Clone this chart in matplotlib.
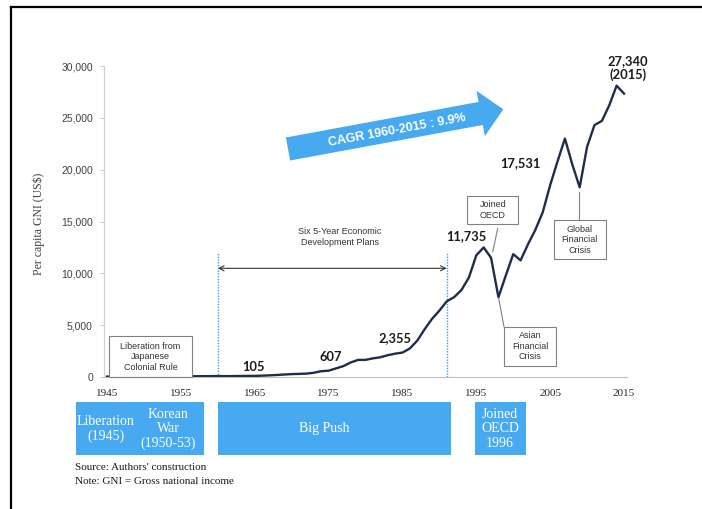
import numpy as np
import matplotlib
matplotlib.use("Agg")
import matplotlib.pyplot as plt
from matplotlib.patches import Rectangle, Polygon
from matplotlib.lines import Line2D
from matplotlib.ticker import FuncFormatter

# ---- data ----
years = list(range(1945, 2016))
gni = [40, 45, 45, 50, 50, 55, 55, 60, 67, 70, 65, 66, 74, 80, 81, 95,
       82, 87, 100, 107, 105, 130, 160, 195, 240, 280, 300, 325, 410, 560,
       607, 830, 1050, 1400, 1650, 1650, 1800, 1900, 2100, 2250, 2355, 2750,
       3500, 4600, 5600, 6400, 7300, 7700, 8400, 9600, 11735, 12500, 11500,
       7700, 9800, 11850, 11250, 12800, 14200, 15900, 18500, 20800, 23000,
       20500, 18300, 22200, 24300, 24700, 26200, 28100, 27340]

value_labels = ["105", "607", "2,355", "11,735", "17,531", "27,340\n(2015)"]
value_label_pos = [(1964.8, 965), (1975.3, 1930), (1984.0, 3760),
                   (1993.7, 13600), (2000.9, 20640), (2015.5, 29800)]

x_ticks = [1945, 1955, 1965, 1975, 1985, 1995, 2005, 2015]
y_ticks = [0, 5000, 10000, 15000, 20000, 25000, 30000]

periods = ["Liberation\n(1945)", "Korean\nWar\n(1950-53)", "Big Push", "Joined\nOECD\n1996"]

BLUE = "#47A9EF"
NAVY = "#1F2D4A"
W, H = 702, 509

fig = plt.figure(figsize=(W / 100, H / 100), dpi=100)
ax = fig.add_axes([104 / W, 1 - 377 / H, (627 - 104) / W, (377 - 66) / H])

ax.plot(years, gni, color=NAVY, lw=1.7, solid_joinstyle="round", zorder=5)

ax.set_xlim(1945 - 3 / 7.386, 2015 + 3 / 7.386)
ax.set_ylim(0, 30000)
ax.set_yticks(y_ticks)
ax.yaxis.set_major_formatter(FuncFormatter(lambda v, p: f"{int(v):,}"))
ax.set_xticks(x_ticks)
ax.set_xticklabels([str(t) for t in x_ticks])
for lab in ax.get_yticklabels():
    lab.set_fontfamily("Liberation Sans")
    lab.set_fontsize(7.5)
    lab.set_color("#404040")
for lab in ax.get_xticklabels():
    lab.set_fontfamily("Liberation Serif")
    lab.set_fontsize(8)
    lab.set_color("#262626")
ax.tick_params(axis="y", length=3, width=0.6, color="#BFBFBF", pad=5)
ax.tick_params(axis="x", length=0, pad=9)
for s in ["top", "right"]:
    ax.spines[s].set_visible(False)
ax.spines["left"].set_color("#D0D0D0")
ax.spines["bottom"].set_color("#BFBFBF")
ax.spines["left"].set_linewidth(0.8)
ax.spines["bottom"].set_linewidth(0.8)

# value labels
for t, (x, y) in zip(value_labels, value_label_pos):
    ax.text(x, y, t, ha="center", va="center", fontsize=9.3, fontweight="bold",
            family="Lato", color="#1a1a1a", clip_on=False, linespacing=1.1, zorder=6)

# dotted plan lines and double arrow
for xv in (1960, 1991):
    ax.plot([xv, xv], [0, 12050], color="#3F9BE0", lw=1.0, ls=(0, (1, 1)), zorder=4)
ax.annotate("", xy=(1991, 10485), xytext=(1960, 10485),
            arrowprops=dict(arrowstyle="<->", color="#333333", lw=0.8,
                            shrinkA=0, shrinkB=0, mutation_scale=9))
ax.text(1976.5, 13530, "Six 5-Year Economic\nDevelopment Plans", ha="center", va="center",
        fontsize=6.5, family="Liberation Sans", color="#333333", linespacing=1.25)

# annotation boxes
def note_box(x0, x1, y0, y1, text, cx, cy):
    ax.add_patch(Rectangle((x0, y0), x1 - x0, y1 - y0, facecolor="white",
                           edgecolor="#808080", lw=0.8, zorder=6, clip_on=False))
    ax.text(cx, cy, text, ha="center", va="center", fontsize=6.5, family="Liberation Sans",
            color="#333333", linespacing=1.2, zorder=7, clip_on=False)

note_box(1945.27, 1956.51, 0, 3955, "Liberation from\nJapanese\nColonial Rule", 1950.89, 1950)
note_box(1993.78, 2000.69, 14758, 17489, "Joined\nOECD", 1997.23, 16110)
note_box(1998.79, 2005.79, 1061, 4852, "Asian\nFinancial\nCrisis", 2002.29, 2960)
note_box(2005.52, 2012.52, 11353, 15144, "Global\nFinancial\nCrisis", 2009.02, 13250)
ax.plot([1997.9, 1997.23], [14344, 12087], color="#808080", lw=0.8, zorder=6)
ax.plot([1998.03, 1998.75], [7620, 4852], color="#808080", lw=0.8, zorder=6)
ax.plot([2008.95, 2008.95], [17875, 15144], color="#808080", lw=0.8, zorder=6)

# period boxes below the axis
period_spans = [(1940.76, 1958.13), (1959.99, 1991.53), (1994.78, 2001.69)]
for x0, x1 in period_spans:
    ax.add_patch(Rectangle((x0, -7524), x1 - x0, 7524 - 2412, facecolor=BLUE,
                           edgecolor="none", clip_on=False, zorder=3))
period_pos = [(1944.82, -5016), (1953.26, -5016), (1974.4, -5016), (1998.2, -5000)]
for t, (x, y) in zip(periods, period_pos):
    ax.text(x, y, t, ha="center", va="center", fontsize=10, family="Liberation Serif",
            color="white", linespacing=1.12, clip_on=False, zorder=4)

# CAGR arrow (figure pixel geometry)
tail = np.array([288.0, 149.0]); tip = np.array([503.3, 109.3])
d = tip - tail; u = d / np.linalg.norm(d); n = np.array([u[1], -u[0]])
hwb, hwh, hl = 11.7, 23.0, 23.0
base = tip - u * hl
pts = [tail + n * hwb, base + n * hwb, base + n * hwh, tip, base - n * hwh,
       base - n * hwb, tail - n * hwb]
pts = [(p[0] / W, 1 - p[1] / H) for p in pts]
fig.patches.append(Polygon(pts, closed=True, facecolor=BLUE, edgecolor="none",
                           transform=fig.transFigure, zorder=2))
ang = np.degrees(np.arctan2(-d[1], d[0]))
fig.text(397 / W, 1 - 130 / H, "CAGR 1960-2015 : 9.9%", ha="center", va="center",
         rotation=ang, rotation_mode="anchor", fontsize=9, fontweight="bold",
         family="Liberation Sans", color="white", zorder=3)

# axis label and notes
fig.text(39 / W, 1 - 224 / H, "Per capita GNI (US$)", rotation=90, ha="center", va="center",
         fontsize=8.5, family="Liberation Serif", color="#404040")
fig.text(75 / W, 1 - 467 / H, "Source: Authors' construction", ha="left", va="center",
         fontsize=8, family="Liberation Serif", color="#1a1a1a")
fig.text(75 / W, 1 - 482 / H, "Note: GNI = Gross national income", ha="left", va="center",
         fontsize=8, family="Liberation Serif", color="#1a1a1a")

# page frame
fig.lines.append(Line2D([11 / W, 1.0], [1 - 7 / H, 1 - 7 / H], transform=fig.transFigure,
                        color="black", lw=1.6))
fig.lines.append(Line2D([11 / W, 11 / W], [0, 1 - 7 / H], transform=fig.transFigure,
                        color="black", lw=1.6))

fig.savefig("out.png", dpi=100)
